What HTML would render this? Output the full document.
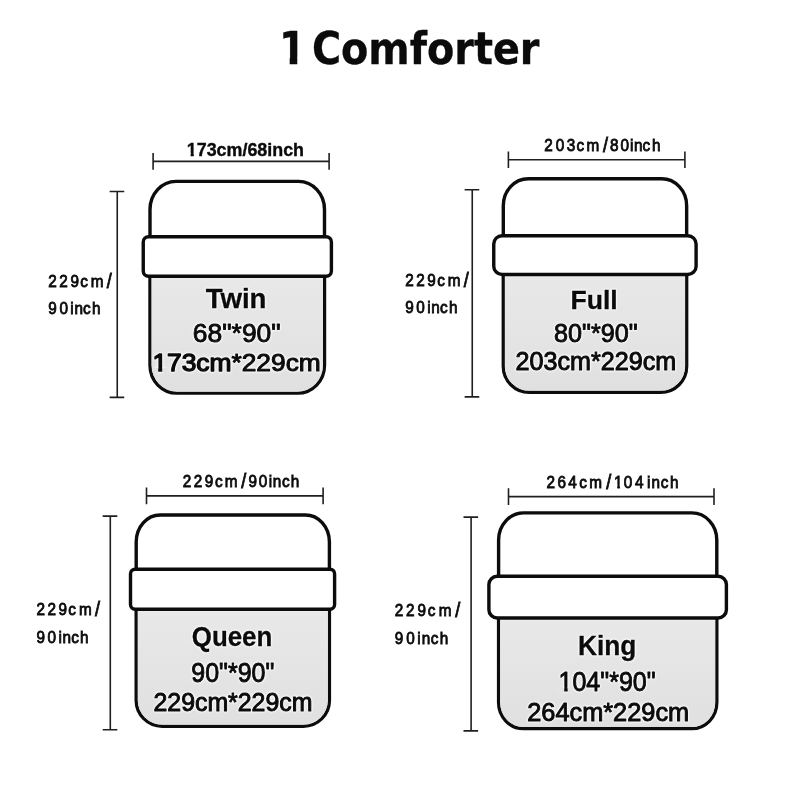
<!DOCTYPE html>
<html lang="en">
<head>
<meta charset="utf-8">
<title>1 Comforter</title>
<style>
html,body{margin:0;padding:0;background:#fff;}
body{width:800px;height:800px;overflow:hidden;}
svg{display:block;will-change:transform;}
text{font-family:"Liberation Sans",sans-serif;fill:#0b0b0b;}
.title{font-family:"DejaVu Sans Condensed","DejaVu Sans","Liberation Sans",sans-serif;font-weight:bold;stroke:#0b0b0b;stroke-width:.3px;}
.dimb{font-weight:bold;stroke:#0b0b0b;stroke-width:.35px;}
.nm{font-weight:bold;stroke:#0b0b0b;paint-order:stroke;stroke-linejoin:round;filter:drop-shadow(0 0 .9px #fff) drop-shadow(0 0 .9px #fff);}
.sz{stroke:#0b0b0b;paint-order:stroke;stroke-linejoin:round;filter:drop-shadow(0 0 .9px #fff) drop-shadow(0 0 .9px #fff);}
.bed{fill:#fff;stroke:#0d0b0c;stroke-width:3.4;stroke-linejoin:round;}
.fillg{stroke:none;}
.dim{stroke:#0b0b0b;stroke-width:.85px;}
.ln{stroke:#221e1f;stroke-width:1.6;fill:none;}
</style>
</head>
<body>
<svg width="800" height="800" viewBox="0 0 800 800">
<defs>
<linearGradient id="gr" x1="0" y1="0" x2="0" y2="1"><stop offset="0" stop-color="#f3f3f3"/><stop offset=".035" stop-color="#e8e8e8"/><stop offset="1" stop-color="#e0e0e0"/></linearGradient>
</defs>
<rect width="800" height="800" fill="#ffffff"/>
<clipPath id="k1"><path clip-rule="evenodd" d="M0 0H800V800H0ZM282.14 57.19H289.7V65.65H282.14ZM297.28 57.19H304.85V65.65H297.28Z"/></clipPath>
<text class="title" clip-path="url(#k1)" y="64" font-size="43.6"><tspan x="278.89" textLength="27.29" lengthAdjust="spacingAndGlyphs">1</tspan> <tspan x="311.94" textLength="227.52" lengthAdjust="spacingAndGlyphs">Comforter</tspan></text>
<g>
<path class="bed" d="M176 181.4H298.5A26 28 0 0 1 324.5 209.4V365.15A27 28 0 0 1 297.5 393.15H177A27 28 0 0 1 150 365.15V209.4A26 28 0 0 1 176 181.4Z"/>
<path class="fillg" fill="url(#gr)" d="M151.5 276.3H323V365.15A25.5 26.5 0 0 1 297.5 391.65H177A25.5 26.5 0 0 1 151.5 365.15Z"/>
<rect class="bed" x="143.25" y="236.75" width="188.15" height="39.55" rx="5.3" ry="5.3"/>
<path class="ln" d="M153.1 161.4H329.1M153.1 153.1V169.7M329.1 153.1V169.7"/>
<path class="ln" d="M117.25 191.5V397.4M109.65 191.5H124.25M109.65 397.4H124.25"/>
<clipPath id="k2"><path clip-rule="evenodd" d="M0 0H800V800H0ZM186.55 152.96H190.65V157.62H186.55ZM193.75 152.96H197.62V157.62H193.75Z"/></clipPath>
<text class="dimb" clip-path="url(#k2)" x="186.8" y="155.95" font-size="17.8" textLength="117.23" lengthAdjust="spacingAndGlyphs">173cm/68inch</text>
<text class="dim" transform="scale(0.9 1)" x="53.66 65.88 78.22 89.11 100.86 118.72" y="287.25 287.25 287.25 287.25 287.25 288.25" font-size="17">229cm<tspan font-size="20">/</tspan></text>
<text class="dim" transform="scale(0.9 1)" x="53.72 65.99 78.06 82.65 92.34 102.18" y="314.2" font-size="17">90inch</text>
<text class="nm" stroke-width="0.3" x="205.65" y="307.85" font-size="27.47" textLength="60.86" lengthAdjust="spacingAndGlyphs">Twin</text>
<text class="sz" stroke-width="0.9" x="192.86" y="341.79" font-size="25.99" textLength="87.81" lengthAdjust="spacingAndGlyphs">68&quot;*90&quot;</text>
<clipPath id="k3"><path clip-rule="evenodd" d="M0 0H800V800H0ZM152.55 367.96H158.22V373.65H152.55ZM162.19 367.96H167.65V373.65H162.19Z"/></clipPath>
<text class="sz" clip-path="url(#k3)" stroke-width="1" x="152.42" y="371.48" font-size="24.65" textLength="168.32" lengthAdjust="spacingAndGlyphs"><tspan stroke-width="1.35">173cm</tspan>*229cm</text>
</g>
<g>
<path class="bed" d="M528.3 178.8H661.65A25 27 0 0 1 686.65 205.8V366.3A26 26 0 0 1 660.65 392.3H529.3A26 26 0 0 1 503.3 366.3V205.8A25 27 0 0 1 528.3 178.8Z"/>
<path class="fillg" fill="url(#gr)" d="M504.8 274.45H685.15V366.3A24.5 24.5 0 0 1 660.65 390.8H529.3A24.5 24.5 0 0 1 504.8 366.3Z"/>
<rect class="bed" x="493.75" y="235.7" width="202.35" height="38.75" rx="8.3" ry="8.3"/>
<path class="ln" d="M508.4 159.75H684.9M508.4 151.45V168.05M684.9 151.45V168.05"/>
<path class="ln" d="M472.25 189.75V396.9M464.65 189.75H479.25M464.65 396.9H479.25"/>
<text class="dim" transform="scale(0.9 1)" x="604.77 617.44 629.66 640.61 651.75 669.94 677.69 689.36 700.06 704.43 714 724.4" y="151.25 151.25 151.25 151.25 151.25 152.25 151.25 151.25 151.25 151.25 151.25 151.25" font-size="17">203cm<tspan font-size="20">/</tspan>80inch</text>
<text class="dim" transform="scale(0.9 1)" x="450.27 462.49 474.83 485.72 497.47 515.33" y="286.25 286.25 286.25 286.25 286.25 287.25" font-size="17">229cm<tspan font-size="20">/</tspan></text>
<text class="dim" transform="scale(0.9 1)" x="450.33 462.61 474.67 479.26 488.95 498.79" y="312.8" font-size="17">90inch</text>
<text class="nm" stroke-width="0.3" x="570.47" y="308.85" font-size="26.31" textLength="47.26" lengthAdjust="spacingAndGlyphs">Full</text>
<text class="sz" stroke-width="0.9" x="554.06" y="341.8" font-size="25.42" textLength="83.56" lengthAdjust="spacingAndGlyphs">80&quot;*90&quot;</text>
<text class="sz" stroke-width="1" x="515.49" y="369.55" font-size="25.49" textLength="160.67" lengthAdjust="spacingAndGlyphs">203cm*229cm</text>
</g>
<g>
<path class="bed" d="M160.2 515H305.4A24 27 0 0 1 329.4 542V700.2A26 26 0 0 1 303.4 726.2H162.2A26 26 0 0 1 136.2 700.2V542A24 27 0 0 1 160.2 515Z"/>
<path class="fillg" fill="url(#gr)" d="M137.7 609.2H327.9V700.2A24.5 24.5 0 0 1 303.4 724.7H162.2A24.5 24.5 0 0 1 137.7 700.2Z"/>
<rect class="bed" x="130.5" y="569.2" width="204.1" height="40" rx="4.6" ry="4.6"/>
<path class="ln" d="M146.5 495.9H323.1M146.5 487.6V504.2M323.1 487.6V504.2"/>
<path class="ln" d="M110.3 516.1V729.75M102.7 516.1H117.3M102.7 729.75H117.3"/>
<text class="dim" transform="scale(0.9 1)" x="203.11 215.27 227.44 238.78 249.86 268.06 276.03 287.52 298.62 302.95 313.34 323.18" y="487.3 487.3 487.3 487.3 487.3 488.3 487.3 487.3 487.3 487.3 487.3 487.3" font-size="17">229cm<tspan font-size="20">/</tspan>90inch</text>
<text class="dim" transform="scale(0.9 1)" x="40.49 52.72 65.05 75.95 87.69 105.56" y="615 615 615 615 615 616" font-size="17">229cm<tspan font-size="20">/</tspan></text>
<text class="dim" transform="scale(0.9 1)" x="40.55 52.83 64.89 69.48 79.17 89.01" y="642.75" font-size="17">90inch</text>
<text class="nm" stroke-width="0.3" x="191.79" y="645.75" font-size="27.76" textLength="80.46" lengthAdjust="spacingAndGlyphs">Queen</text>
<text class="sz" stroke-width="0.9" x="191.28" y="681.77" font-size="27.68" textLength="83.08" lengthAdjust="spacingAndGlyphs">90&quot;*90&quot;</text>
<text class="sz" stroke-width="1" x="153.5" y="711.14" font-size="25.85" textLength="158.89" lengthAdjust="spacingAndGlyphs">229cm*229cm</text>
</g>
<g>
<path class="bed" d="M523.6 512.9H691.8A25 27 0 0 1 716.8 539.9V702.6A25 26 0 0 1 691.8 728.6H523.6A25 26 0 0 1 498.6 702.6V539.9A25 27 0 0 1 523.6 512.9Z"/>
<path class="fillg" fill="url(#gr)" d="M500.1 618H715.3V702.6A23.5 24.5 0 0 1 691.8 727.1H523.6A23.5 24.5 0 0 1 500.1 702.6Z"/>
<rect class="bed" x="488.9" y="576.3" width="237.5" height="41.7" rx="8.3" ry="8.3"/>
<path class="ln" d="M508.5 496.6H714M508.5 488.3V504.9M714 488.3V504.9"/>
<path class="ln" d="M471.1 517.1V730.9M463.5 517.1H478.1M463.5 730.9H478.1"/>
<clipPath id="k4"><path clip-rule="evenodd" d="M0 0H800V800H0ZM613.63 485.3H617.36V489.93H613.63ZM619.86 485.3H623.48V489.93H619.86Z"/></clipPath>
<g clip-path="url(#k4)"><text class="dim" transform="scale(0.9 1)" x="607.24 619.33 631.49 643.56 654.75 673.72 682.32 692.99 705.49 718.84 723.82 734.14 744.49" y="488 488 488 488 488 489 488 488 488 488 488 488 488" font-size="17">264cm<tspan font-size="20">/</tspan>104inch</text></g>
<text class="dim" transform="scale(0.9 1)" x="438.53 451.18 463.95 475.21 487.46 505.8" y="616 616 616 616 616 617" font-size="17">229cm<tspan font-size="20">/</tspan></text>
<text class="dim" transform="scale(0.9 1)" x="438.59 451.3 463.68 468.53 478.55 488.75" y="643.75" font-size="17">90inch</text>
<text class="nm" stroke-width="0.3" x="577.99" y="654.95" font-size="27.91" textLength="58.42" lengthAdjust="spacingAndGlyphs">King</text>
<clipPath id="k5"><path clip-rule="evenodd" d="M0 0H800V800H0ZM558.8 687.19H564.24V692.63H558.8ZM567.65 687.19H572.89V692.63H567.65Z"/></clipPath>
<text class="sz" clip-path="url(#k5)" stroke-width="0.9" x="558.54" y="690.68" font-size="27.26" textLength="97.07" lengthAdjust="spacingAndGlyphs">104&quot;*90&quot;</text>
<text class="sz" stroke-width="1" x="527.23" y="721.04" font-size="26.27" textLength="161.94" lengthAdjust="spacingAndGlyphs">264cm*229cm</text>
</g>
</svg>
</body>
</html>
